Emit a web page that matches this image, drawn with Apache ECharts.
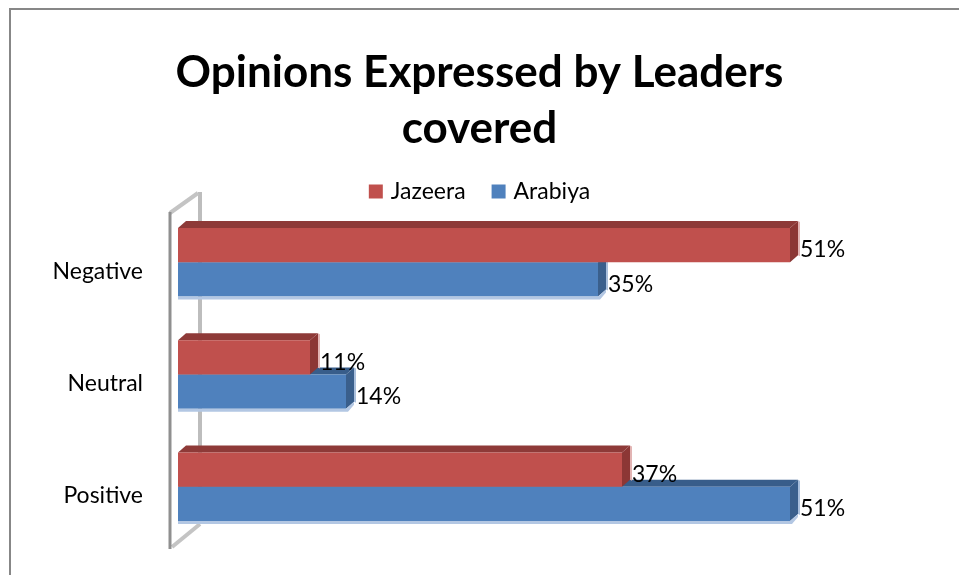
<!DOCTYPE html>
<html><head><meta charset="utf-8">
<script src="https://cdn.jsdelivr.net/npm/echarts@6/dist/echarts.min.js"></script>
<style>html,body{margin:0;padding:0;background:#fff}#c{width:959px;height:575px}</style>
</head><body><div id="c"></div>
<script>
var categories = ['Positive', 'Neutral', 'Negative'];
var jazeera = [37, 11, 51];
var arabiya = [51, 14, 35];
var seriesNames = ['Jazeera', 'Arabiya'];

var FONT = 'Lato, "Open Sans", sans-serif';
var DX = 8, DY = -7;

function makeRender(isTop, front, topC, sideC, edgeC) {
  return function (params, api) {
    var cat = api.value(0), val = api.value(1);
    var p0 = api.coord([0, cat]);
    var p1 = api.coord([val, cat]);
    var band = api.size([0, 1])[1];
    var h = band * 0.305;
    var cy = p0[1];
    var y = isTop ? cy - h : cy;
    var x0 = p0[0], x1 = p1[0];
    var children = [];
    children.push({type: 'polygon', shape: {points: [[x0, y], [x0 + DX, y + DY], [x1 + DX, y + DY], [x1, y]]}, style: {fill: topC}});
    children.push({type: 'polygon', shape: {points: [[x1, y], [x1 + DX, y + DY], [x1 + DX, y + h + DY], [x1, y + h]]}, style: {fill: sideC}});
    children.push({type: 'polygon', shape: {points: [[x1 + DX, y + DY], [x1 + DX + 2, y + DY + 1], [x1 + DX + 2, y + h + DY + 1], [x1 + DX, y + h + DY]]}, style: {fill: edgeC}});
    children.push({type: 'rect', shape: {x: x0, y: y, width: x1 - x0, height: h}, style: {fill: front}});
    if (!isTop) {
      children.push({type: 'polygon', shape: {points: [[x0, y + h], [x1, y + h], [x1 + DX, y + h + DY], [x1 + DX, y + h + DY + 3], [x1 + 2, y + h + 3], [x0, y + h + 3]]}, style: {fill: '#B3C7E3'}});
    }
    children.push({type: 'text', style: {text: val + '%', x: x1 + DX + 2, y: y + h / 2 + 5, verticalAlign: 'middle', align: 'left', fill: '#000', font: '23px ' + FONT}});
    return {type: 'group', children: children};
  };
}

function toData(arr) { return arr.map(function (v, i) { return [i, v]; }); }

var chart = echarts.init(document.getElementById('c'), null, {renderer: 'canvas'});
chart.setOption({
  animation: false,
  title: {
    text: 'Opinions Expressed by Leaders\ncovered',
    left: 'center', top: 40,
    textStyle: {fontFamily: FONT, fontWeight: 'bold', fontSize: 44, lineHeight: 56, color: '#000'}
  },
  legend: {
    top: 175, left: 'center', itemWidth: 14, itemHeight: 14, itemGap: 26,
    textStyle: {fontFamily: FONT, fontSize: 23, color: '#000', padding: [0, 0, 0, 3]},
    data: [{name: seriesNames[0], icon: 'rect'}, {name: seriesNames[1], icon: 'rect'}]
  },
  grid: {left: 178, right: 121, top: 206, bottom: 32, containLabel: false},
  xAxis: {type: 'value', min: 0, max: 55, show: false},
  yAxis: {
    type: 'category', data: categories,
    axisLine: {show: false}, axisTick: {show: false},
    axisLabel: {margin: 35, fontFamily: FONT, fontSize: 23, color: '#000', verticalAlign: 'top', lineHeight: 18}
  },
  graphic: [
    {type: 'rect', z: -10, shape: {x: 10, y: 9, width: 1000, height: 700}, style: {fill: 'none', stroke: '#878787', lineWidth: 2}},
    {type: 'polyline', z: 0, shape: {points: [[200, 192], [200, 524]]}, style: {stroke: '#BDBDBD', lineWidth: 4, fill: 'none'}},
    {type: 'polyline', z: 0, shape: {points: [[200, 524], [172, 547]]}, style: {stroke: '#C4C4C4', lineWidth: 4, fill: 'none'}},
    {type: 'polyline', z: 0, shape: {points: [[170, 213], [198, 193]]}, style: {stroke: '#C4C4C4', lineWidth: 4, fill: 'none'}},
    {type: 'polyline', z: 0, shape: {points: [[170, 212], [170, 549]]}, style: {stroke: '#8F8F8F', lineWidth: 3, fill: 'none'}}
  ],
  series: [
    {name: seriesNames[1], type: 'custom', renderItem: makeRender(false, '#4F81BD', '#385D8A', '#3A5F8C', '#A9BFDC'), data: toData(arabiya), itemStyle: {color: '#4F81BD'}, z: 3},
    {name: seriesNames[0], type: 'custom', renderItem: makeRender(true, '#C0504D', '#8E3A38', '#8C3735', '#E2B4B3'), data: toData(jazeera), itemStyle: {color: '#C0504D'}, z: 4}
  ]
});
</script></body></html>
